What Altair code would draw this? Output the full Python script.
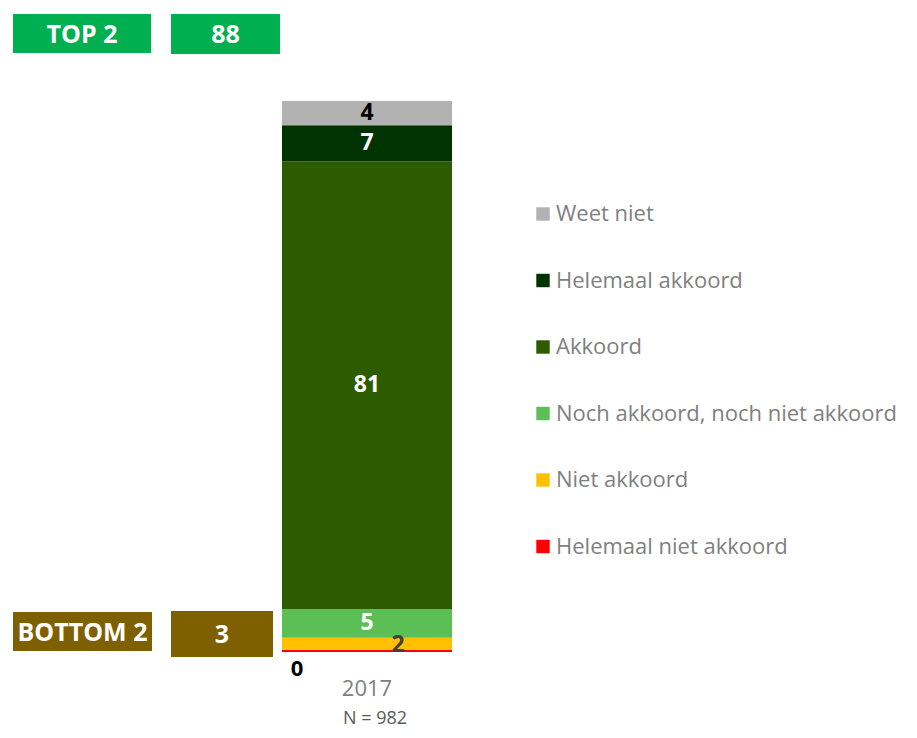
import altair as alt
import pandas as pd

# ---- data ----
categories = ["Helemaal niet akkoord", "Niet akkoord", "Noch akkoord, noch niet akkoord",
              "Akkoord", "Helemaal akkoord", "Weet niet"]
values = [0.4, 2.2, 5.2, 81.2, 6.6, 4.4]
colors = ["#ff0000", "#ffc000", "#5cbf55", "#2d5b00", "#003300", "#b2b2b2"]
year = "2017"
n_resp = 982
top_label = "TOP 2"
bottom_label = "BOTTOM 2"
top_cats = ["Akkoord", "Helemaal akkoord"]
bottom_cats = ["Helemaal niet akkoord", "Niet akkoord"]

FONT = "Open Sans"

rows = []
cum = 0.0
for c, v in zip(categories, values):
    rows.append({"category": c, "value": v, "start": cum, "end": cum + v,
                 "mid": cum + v / 2, "label": str(int(round(v))), "year": year})
    cum += v
df = pd.DataFrame(rows)

top_val = str(int(round(sum(v for c, v in zip(categories, values) if c in top_cats))))
bottom_val = str(int(round(sum(v for c, v in zip(categories, values) if c in bottom_cats))))

legend_order = list(reversed(categories))
legend_colors = list(reversed(colors))

xscale = alt.Scale(domain=[year], range=[274, 444], paddingInner=0, paddingOuter=0)
yscale = alt.Scale(domain=[0, 100], range=[644, 93], zero=False, nice=False)

base = alt.Chart(df)

bars = base.mark_bar().encode(
    x=alt.X("year:N", scale=xscale, axis=None),
    y=alt.Y("start:Q", scale=yscale, axis=None),
    y2="end:Q",
    color=alt.Color("category:N",
                    scale=alt.Scale(domain=legend_order, range=legend_colors),
                    sort=legend_order,
                    legend=alt.Legend(title=None, orient="none", legendX=524, legendY=195,
                                      symbolType="square", symbolSize=180,
                                      symbolStrokeWidth=0, labelFont=FONT,
                                      labelFontSize=22, labelColor="#7f7f7f",
                                      rowPadding=44.5, labelOffset=2, padding=0,
                                      labelLimit=500)),
)


def seg_text(cats, color, dx=0, dy=0, size=23):
    return base.transform_filter(
        alt.FieldOneOfPredicate(field="category", oneOf=cats)
    ).mark_text(font=FONT, fontWeight="bold", fontSize=size, color=color,
                dx=dx, dy=dy, baseline="middle", align="center").encode(
        x=alt.X("year:N", scale=xscale, axis=None),
        y=alt.Y("mid:Q", scale=yscale, axis=None),
        text="label:N",
    )


lbl_white = seg_text(["Akkoord", "Helemaal akkoord", "Noch akkoord, noch niet akkoord"], "#ffffff")
lbl_black = seg_text(["Weet niet"], "#000000")
lbl_two = seg_text(["Niet akkoord"], "#404040", dx=31, dy=1)
lbl_zero = seg_text(["Helemaal niet akkoord"], "#000000", dx=-70, dy=18, size=22)

year_df = pd.DataFrame({"year": [year], "n": [f"N = {n_resp}"]})
year_lbl = alt.Chart(year_df).mark_text(font=FONT, fontSize=22, color="#808080",
                                         baseline="middle").encode(
    x=alt.X("year:N", scale=xscale, axis=None), y=alt.value(681), text="year:N")
n_lbl = alt.Chart(year_df).mark_text(font=FONT, fontSize=18, color="#595959",
                                      baseline="bottom", dx=8).encode(
    x=alt.X("year:N", scale=xscale, axis=None), y=alt.value(720), text="n:N")


def box(text, fill, x1, x2, y1, y2):
    d = pd.DataFrame({"t": [text]})
    r = alt.Chart(d).mark_rect(color=fill).encode(
        x=alt.value(x1), x2=alt.value(x2), y=alt.value(y1), y2=alt.value(y2))
    t = alt.Chart(d).mark_text(font=FONT, fontWeight="bold", fontSize=25, color="#ffffff",
                               baseline="middle", align="center").encode(
        x=alt.value((x1 + x2) / 2), y=alt.value((y1 + y2) / 2 + 1), text="t:N")
    return r + t


boxes = (box(top_label, "#00b050", 5, 143, 6, 45)
         + box(top_val, "#00b050", 163, 272, 6, 46)
         + box(bottom_label, "#7f6000", 5, 144, 604, 643)
         + box(bottom_val, "#7f6000", 163, 265, 603, 649))

chart = alt.layer(bars, lbl_white, lbl_black, lbl_two, lbl_zero, year_lbl, n_lbl, boxes).properties(
    width=901, height=722, autosize=alt.AutoSizeParams(type="none"), padding=0,
).configure_view(stroke=None)

chart.save("out.html", embed_options={"renderer": "svg", "actions": False})
